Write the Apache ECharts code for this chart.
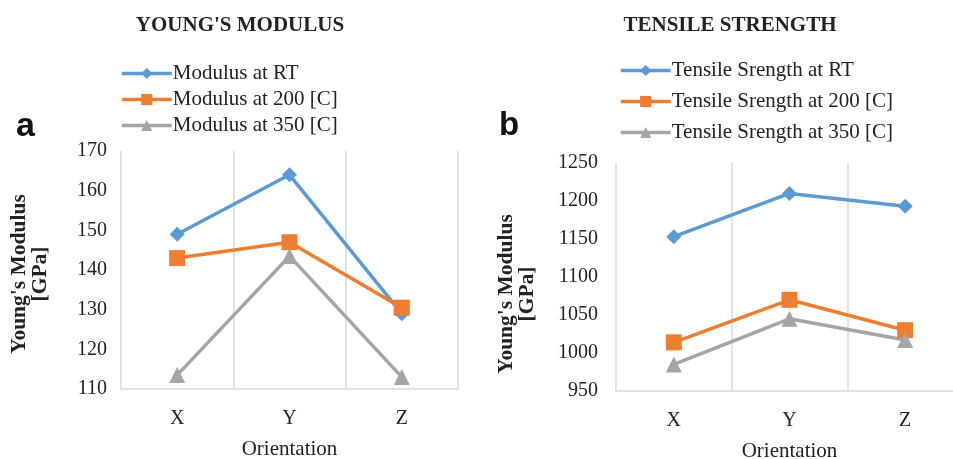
<!DOCTYPE html>
<html>
<head>
<meta charset="utf-8">
<script src="https://cdn.jsdelivr.net/npm/echarts@6/dist/echarts.min.js"></script>
<style>
  html, body { margin: 0; padding: 0; background: #fff; }
  #chart { width: 953px; height: 459px; }
</style>
</head>
<body>
<div id="chart"></div>
<script>
// Orientation categories shared by both panels
const orientations = ['X', 'Y', 'Z'];

// Panel a: Young's modulus [GPa]
const modulusRT = [149, 164, 129];
const modulus200 = [143, 147, 130.5];
const modulus350 = [113.5, 143.5, 113];

// Panel b: tensile strength
const tensileRT = [1153, 1210, 1193];
const tensile200 = [1014, 1070, 1030];
const tensile350 = [985, 1045, 1017];

const serif = '"Liberation Serif", "Times New Roman", serif';
const COLORS = { rt: '#5B9BD5', c200: '#ED7D31', c350: '#A5A5A5' };

function lineSeries(name, data, color, symbol, size, axisIdx) {
  return {
    name: name,
    type: 'line',
    data: data,
    xAxisIndex: axisIdx,
    yAxisIndex: axisIdx,
    symbol: symbol,
    symbolSize: size,
    lineStyle: { color: color, width: 3.5 },
    itemStyle: { color: color },
    z: 3
  };
}

const labelStyle = { color: '#222', fontFamily: serif, fontSize: 20 };
const nameStyle = { color: '#222', fontFamily: serif, fontSize: 21 };

function categoryAxis(gridIndex) {
  return {
    type: 'category',
    gridIndex: gridIndex,
    data: orientations,
    boundaryGap: true,
    axisLine: { show: true, lineStyle: { color: '#d9d9d9', width: 1.5 } },
    axisTick: { show: false },
    axisLabel: Object.assign({ margin: 20 }, labelStyle),
    splitLine: { show: true, lineStyle: { color: '#d9d9d9', width: 1.5 } },
    name: 'Orientation',
    nameLocation: 'middle',
    nameGap: 50,
    nameTextStyle: nameStyle
  };
}

function valueAxis(gridIndex, min, max, interval, margin, gap, shift) {
  return {
    type: 'value',
    gridIndex: gridIndex,
    min: min,
    max: max,
    interval: interval,
    axisLine: { show: false },
    axisTick: { show: false },
    splitLine: { show: false },
    axisLabel: Object.assign({ margin: margin, formatter: (v) => String(v) }, labelStyle),
    name: "Young's Modulus\n[GPa]",
    nameLocation: 'middle',
    nameRotate: 90,
    nameGap: gap,
    nameTextStyle: {
      color: '#222', fontFamily: serif, fontSize: 21.5, fontWeight: 'bold', lineHeight: 21,
      padding: [0, shift, 0, 0]
    }
  };
}

const legendBase = {
  orient: 'vertical', itemWidth: 50, itemHeight: 14,
  lineStyle: { width: 3.5 },
  textStyle: { fontFamily: serif, fontSize: 21, color: '#222', padding: [0, 0, 0, -4] }
};

const chart = echarts.init(document.getElementById('chart'), null, { renderer: 'canvas' });

chart.setOption({
  backgroundColor: '#fff',
  animation: false,
  title: [
    { text: "YOUNG'S MODULUS", left: 235, top: 10, textAlign: 'center',
      textStyle: { fontFamily: serif, fontSize: 21, fontWeight: 'bold', color: '#222' } },
    { text: 'TENSILE STRENGTH', left: 725, top: 10, textAlign: 'center',
      textStyle: { fontFamily: serif, fontSize: 21, fontWeight: 'bold', color: '#222' } },
    { text: 'a', left: 11, top: 105,
      textStyle: { fontFamily: 'Liberation Sans, Arial, sans-serif', fontSize: 34, fontWeight: 'bold', color: '#111' } },
    { text: 'b', left: 494, top: 104,
      textStyle: { fontFamily: 'Liberation Sans, Arial, sans-serif', fontSize: 33, fontWeight: 'bold', color: '#111' } }
  ],
  legend: [
    Object.assign({}, legendBase, {
      left: 115, top: 58, itemGap: 5,
      data: ['Modulus at RT', 'Modulus at 200 [C]', 'Modulus at 350 [C]']
    }),
    Object.assign({}, legendBase, {
      left: 614, top: 55, itemGap: 10,
      data: ['Tensile Srength at RT', 'Tensile Srength at 200 [C]', 'Tensile Srength at 350 [C]']
    })
  ],
  grid: [
    { left: 121, width: 337, top: 151, bottom: 70, outerBoundsMode: 'none', containLabel: false },
    { left: 616, width: 347, top: 163, bottom: 68, outerBoundsMode: 'none', containLabel: false }
  ],
  xAxis: [categoryAxis(0), categoryAxis(1)],
  yAxis: [
    valueAxis(0, 110, 170, 10, 14, 70, 8),
    valueAxis(1, 950, 1250, 50, 18, 78, 34)
  ],
  series: [
    lineSeries('Modulus at RT', modulusRT, COLORS.rt, 'diamond', 15, 0),
    lineSeries('Modulus at 200 [C]', modulus200, COLORS.c200, 'rect', 16, 0),
    lineSeries('Modulus at 350 [C]', modulus350, COLORS.c350, 'triangle', 16, 0),
    lineSeries('Tensile Srength at RT', tensileRT, COLORS.rt, 'diamond', 15, 1),
    lineSeries('Tensile Srength at 200 [C]', tensile200, COLORS.c200, 'rect', 16, 1),
    lineSeries('Tensile Srength at 350 [C]', tensile350, COLORS.c350, 'triangle', 16, 1)
  ]
});
</script>
</body>
</html>
